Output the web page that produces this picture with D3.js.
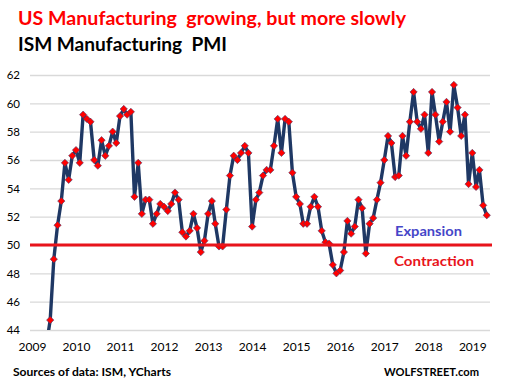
<!DOCTYPE html>
<html><head><meta charset="utf-8">
<script src="https://cdn.jsdelivr.net/npm/d3@7"></script>
<style>
body{margin:0;background:#fff;}
text{font-family:Lato,"Open Sans",sans-serif;white-space:pre;}
</style></head>
<body><svg id="c" width="505" height="388"></svg>
<script>
// PMI monthly values, May 2009 .. May 2019
const startMonth = "2009-05";
const pmi = [
  43.0, 44.7, 49.0, 51.4, 53.1, 55.8, 54.6, 56.3,
  56.7, 55.8, 59.2, 58.9, 58.7, 56.0, 55.6, 57.4, 56.3, 57.0, 58.0, 57.2,
  59.1, 59.6, 59.2, 59.4, 53.4, 55.8, 52.2, 53.2, 53.2, 51.5, 52.2, 52.9,
  52.7, 52.4, 52.9, 53.7, 53.2, 50.9, 50.6, 51.0, 52.2, 51.2, 49.5, 50.3,
  52.2, 53.1, 51.5, 49.9, 49.9, 52.5, 54.9, 56.3, 56.0, 56.5, 57.0, 56.5,
  51.3, 53.2, 53.7, 54.9, 55.3, 55.3, 57.0, 58.9, 56.5, 58.9, 58.7, 55.1,
  53.4, 52.9, 51.5, 51.5, 52.7, 53.4, 52.7, 51.0, 50.2, 50.1, 48.6, 48.0,
  48.2, 49.5, 51.7, 50.8, 51.3, 53.2, 52.6, 49.4, 51.5, 51.9, 53.2, 54.4,
  56.0, 57.7, 57.2, 54.8, 54.9, 57.7, 56.3, 58.7, 60.8, 58.7, 58.2, 59.2,
  56.5, 60.8, 59.2, 57.3, 58.7, 60.1, 58.0, 61.3, 59.7, 57.7, 59.2, 54.3,
  56.5, 54.1, 55.3, 52.8, 52.1
];
const yTicks = [44, 46, 48, 50, 52, 54, 56, 58, 60, 62];
const years = [2009, 2010, 2011, 2012, 2013, 2014, 2015, 2016, 2017, 2018, 2019];
const threshold = 50;

const svg = d3.select("#c");
const parse = d3.timeParse("%Y-%m");
const t0 = parse(startMonth);
const data = pmi.map((v, i) => ({date: d3.timeMonth.offset(t0, i), v}));

const L = 30, R = 490, T = 75, B = 330;
const x = d3.scaleTime().domain([new Date(2009,0,1), new Date(2019,0,1)]).range([32, 472.3]);
const y = d3.scaleLinear().domain([44, 62]).range([B, T]);

// titles
svg.append("text").attr("x", 18).attr("y", 25).attr("fill", "#FF0000")
  .attr("font-weight", "bold").attr("font-size", 19)
  .attr("textLength", 388).attr("lengthAdjust", "spacingAndGlyphs")
  .text("US Manufacturing  growing, but more slowly");
svg.append("text").attr("x", 18).attr("y", 51).attr("fill", "#000")
  .attr("font-weight", "bold").attr("font-size", 19)
  .attr("textLength", 209).attr("lengthAdjust", "spacingAndGlyphs")
  .text("ISM Manufacturing  PMI");

// grid + y labels
const ya = svg.append("g").attr("transform", `translate(${L},0)`)
  .call(d3.axisLeft(y).tickValues(yTicks).tickSize(-(R - L)).tickPadding(10).tickFormat(d3.format("d")));
ya.select(".domain").remove();
ya.selectAll("line").attr("stroke", "#D9D9D9").attr("stroke-width", 1.3);
ya.selectAll("text").attr("font-size", 11.5).attr("fill", "#000").style("font-family", "Lato, sans-serif");

// x labels
const xa = svg.append("g").attr("transform", `translate(0,${B})`)
  .call(d3.axisBottom(x).tickValues(years.map(yr => new Date(yr,0,1))).tickSize(0).tickPadding(12).tickFormat(d3.timeFormat("%Y")));
xa.select(".domain").remove();
xa.selectAll("text").attr("font-size", 12).attr("fill", "#000").style("font-family", "Lato, sans-serif");

// clip
svg.append("clipPath").attr("id", "pc").append("rect")
  .attr("x", L - 5).attr("y", T - 10).attr("width", R - L + 10).attr("height", B - T + 10);

const g = svg.append("g").attr("clip-path", "url(#pc)");
g.append("path").datum(data)
  .attr("d", d3.line().x(d => x(d.date)).y(d => y(d.v)))
  .attr("fill", "none").attr("stroke", "#1F3864").attr("stroke-width", 3.4).attr("stroke-linejoin", "round");

// threshold line
svg.append("line").attr("x1", L).attr("x2", R + 2).attr("y1", y(threshold)).attr("y2", y(threshold))
  .attr("stroke", "#E8141B").attr("stroke-width", 3);

// markers
const sym = d3.symbol().type(d3.symbolDiamond2).size(34);
g.selectAll("path.m").data(data).join("path").attr("class", "m")
  .attr("transform", d => `translate(${x(d.date)},${y(d.v)})`)
  .attr("d", sym).attr("fill", "#FF0000").attr("stroke", "#4A3A6A").attr("stroke-width", 0.6);

// labels
svg.append("text").attr("x", 395).attr("y", 236).attr("fill", "#4646C8")
  .attr("font-weight", "bold").attr("font-size", 13.5)
  .attr("textLength", 67).attr("lengthAdjust", "spacingAndGlyphs").text("Expansion");
svg.append("text").attr("x", 394).attr("y", 266).attr("fill", "#E8141B")
  .attr("font-weight", "bold").attr("font-size", 13.5)
  .attr("textLength", 80).attr("lengthAdjust", "spacingAndGlyphs").text("Contraction");

svg.append("text").attr("x", 13).attr("y", 376).attr("font-weight", "bold").attr("font-size", 12)
  .attr("textLength", 158).attr("lengthAdjust", "spacingAndGlyphs").text("Sources of data: ISM, YCharts");
svg.append("text").attr("x", 384).attr("y", 376).attr("font-weight", "bold").attr("font-size", 12)
  .attr("textLength", 95).attr("lengthAdjust", "spacingAndGlyphs").text("WOLFSTREET.com");
</script></body></html>
